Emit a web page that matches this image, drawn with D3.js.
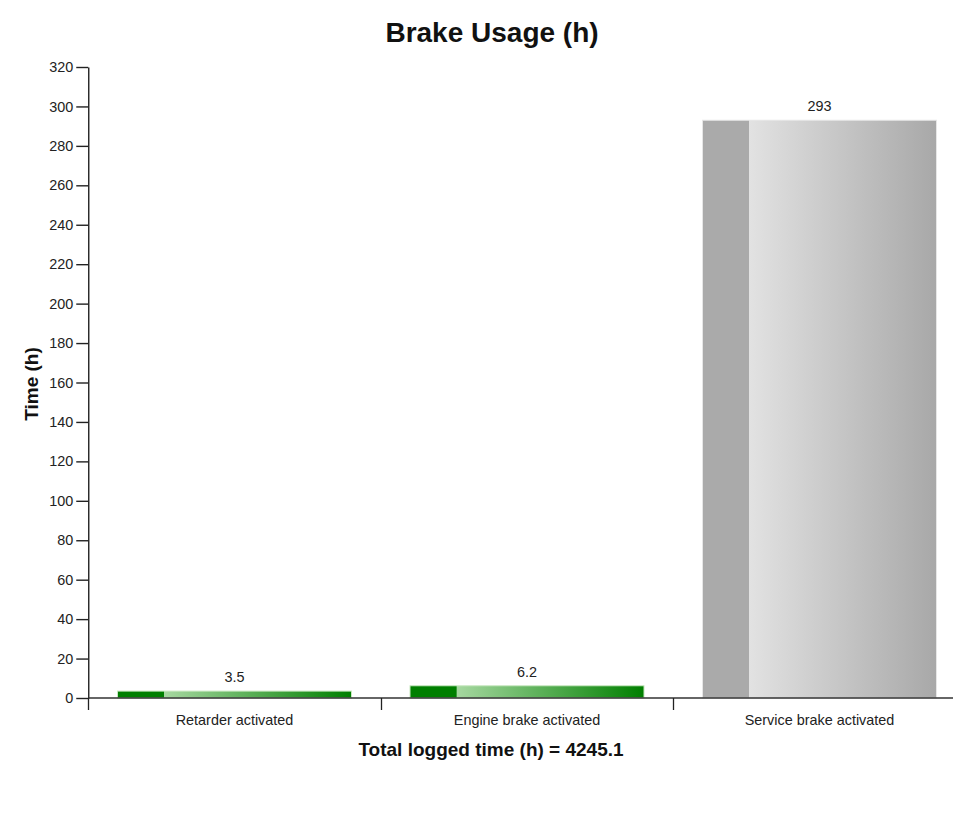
<!DOCTYPE html>
<html>
<head>
<meta charset="utf-8">
<script src="https://cdn.jsdelivr.net/npm/d3@7"></script>
<style>
  html, body { margin: 0; padding: 0; background: #fff; }
  svg { display: block; font-family: "Liberation Sans", Arial, sans-serif; }
</style>
</head>
<body>
<script>
// Brake usage hours per brake type
const categories = ["Retarder activated", "Engine brake activated", "Service brake activated"];
const hours = [3.5, 6.2, 293];
const yTicks = [0, 20, 40, 60, 80, 100, 120, 140, 160, 180, 200, 220, 240, 260, 280, 300, 320];
const totalLogged = 4245.1;
const palette = [
  { solid: "#007f00", light: "#a6d8a0", dark: "#007f00" },
  { solid: "#007f00", light: "#a6d8a0", dark: "#007f00" },
  { solid: "#aaaaaa", light: "#e2e2e2", dark: "#a8a8a8" }
];

const W = 953, H = 837;
const x0 = 88.25, x1 = 965.75;
const yTop = 67, yBase = 698;
const fontSmall = 14.4;

const svg = d3.select("body").append("svg").attr("width", W).attr("height", H);

const x = d3.scaleBand().domain(categories).range([x0, x1]).paddingInner(0).paddingOuter(0);
const y = d3.scaleLinear().domain([0, 320]).range([yBase, yTop]);

// gradients: solid left strip then a light-to-dark sweep
const defs = svg.append("defs");
palette.forEach((p, i) => {
  const g = defs.append("linearGradient").attr("id", "grad" + i)
    .attr("x1", "0%").attr("x2", "100%").attr("y1", "0%").attr("y2", "0%");
  g.append("stop").attr("offset", "0%").attr("stop-color", p.solid);
  g.append("stop").attr("offset", "19.8%").attr("stop-color", p.solid);
  g.append("stop").attr("offset", "20%").attr("stop-color", p.light);
  g.append("stop").attr("offset", "100%").attr("stop-color", p.dark);
});

// Bars
const barW = x.bandwidth() * 0.8;
svg.append("g").selectAll("rect").data(hours).join("rect")
  .attr("x", (d, i) => x(categories[i]) + (x.bandwidth() - barW) / 2)
  .attr("y", d => y(d))
  .attr("width", barW)
  .attr("height", d => yBase - y(d))
  .attr("fill", (d, i) => `url(#grad${i})`)
  .attr("stroke", (d, i) => i < 2 ? "#c8e8c0" : "#e6e6e6")
  .attr("stroke-width", 1);

// Value labels
svg.append("g").selectAll("text").data(hours).join("text")
  .attr("x", (d, i) => x(categories[i]) + x.bandwidth() / 2)
  .attr("y", d => y(d) - 9)
  .attr("text-anchor", "middle")
  .attr("font-size", fontSmall)
  .attr("fill", "#222")
  .text(d => d);

// Y axis
const yAxis = d3.axisLeft(y).tickValues(yTicks).tickSize(12).tickPadding(3).tickSizeOuter(0);
const gy = svg.append("g").attr("transform", `translate(${x0},0)`).call(yAxis);
gy.selectAll("text").attr("font-size", fontSmall).attr("fill", "#222").attr("font-family", "Liberation Sans, Arial, sans-serif");
gy.selectAll("line, path").attr("stroke", "#222").attr("stroke-width", 1.4);

// X axis: baseline with ticks at band boundaries
const gx = svg.append("g");
gx.append("line").attr("x1", x0).attr("x2", x1).attr("y1", yBase).attr("y2", yBase)
  .attr("stroke", "#333").attr("stroke-width", 1.5);
const bounds = categories.map(c => x(c)).concat([x1]);
gx.selectAll("line.tick").data(bounds).join("line").attr("class", "tick")
  .attr("x1", d => Math.round(d) + 0.5).attr("x2", d => Math.round(d) + 0.5)
  .attr("y1", yBase).attr("y2", yBase + 12)
  .attr("stroke", "#222").attr("stroke-width", 1.3);
gx.selectAll("text").data(categories).join("text")
  .attr("x", d => x(d) + x.bandwidth() / 2)
  .attr("y", 725)
  .attr("text-anchor", "middle")
  .attr("font-size", fontSmall)
  .attr("fill", "#222")
  .text(d => d);

// Titles
svg.append("text").attr("x", 492).attr("y", 42).attr("text-anchor", "middle")
  .attr("font-size", 28).attr("font-weight", "bold").attr("fill", "#111")
  .text("Brake Usage (h)");
svg.append("text").attr("x", 491).attr("y", 756).attr("text-anchor", "middle")
  .attr("font-size", 19).attr("font-weight", "bold").attr("fill", "#111")
  .text(`Total logged time (h) = ${totalLogged}`);
svg.append("text").attr("transform", `translate(38,384) rotate(-90)`)
  .attr("text-anchor", "middle")
  .attr("font-size", 19).attr("font-weight", "bold").attr("fill", "#111")
  .text("Time (h)");
</script>
</body>
</html>
